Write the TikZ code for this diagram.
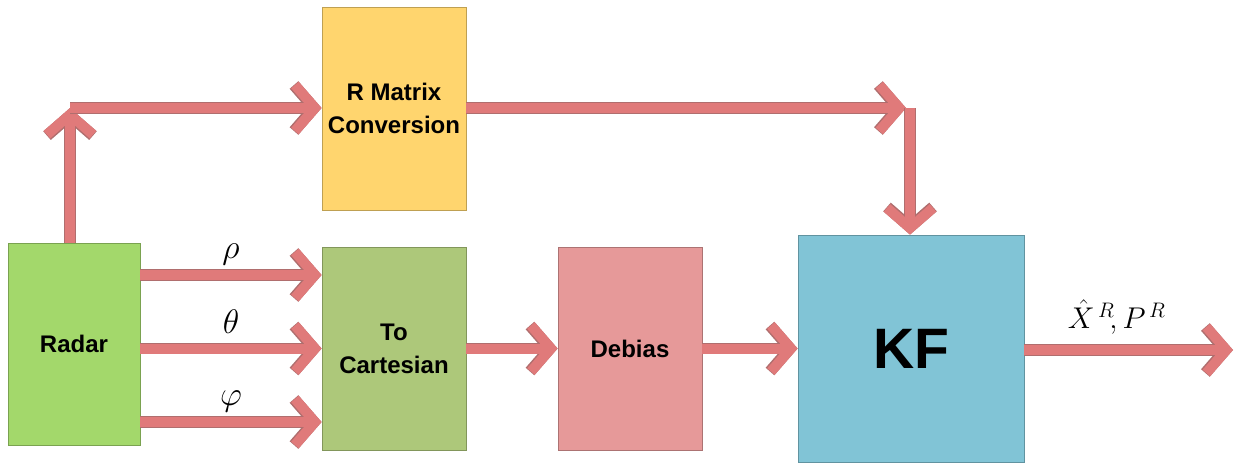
\RequirePackage{fix-cm}
\documentclass[tikz,border=0pt]{standalone}
\usepackage{fontspec}
\setmainfont{Liberation Sans}
\usetikzlibrary{arrows.meta}
\definecolor{arrowpink}{RGB}{224,122,122}
\definecolor{arrowedge}{RGB}{176,110,110}
\definecolor{radargreen}{RGB}{163,216,107}
\definecolor{cartgreen}{RGB}{173,200,122}
\definecolor{ryellow}{RGB}{255,213,110}
\definecolor{debpink}{RGB}{230,153,153}
\definecolor{kfblue}{RGB}{129,196,214}
\tikzset{
  blockbox/.style={draw=#1!75!black, fill=#1, line width=0.8pt, inner sep=0pt,
    font=\fontsize{24}{33}\selectfont\bfseries, align=center},
  flow/.style={draw=arrowpink, line width=10pt,
    -{Straight Barb[length=20pt,width=46pt,line width=10pt]},
    preaction={draw=arrowedge, line width=11.5pt,
      -{Straight Barb[length=20pt,width=46pt,line width=11.5pt]}}},
  mathlbl/.style={font=\fontsize{34}{40}\selectfont, inner sep=0pt}
}
\begin{document}
\begin{tikzpicture}[x=1pt,y=-1pt]
\useasboundingbox (0,0) rectangle (1243,464);
\node[blockbox=radargreen, minimum width=132pt, minimum height=202pt] (radar) at (74,344) {Radar};
\node[blockbox=ryellow, minimum width=144pt, minimum height=203pt] (rmat) at (394,108.5) {R Matrix\\Conversion};
\node[blockbox=cartgreen, minimum width=144pt, minimum height=203pt] (cart) at (394,348.5) {To\\Cartesian};
\node[blockbox=debpink, minimum width=144pt, minimum height=203pt] (deb) at (630,348.5) {Debias};
\node[blockbox=kfblue, minimum width=226pt, minimum height=227pt, font=\fontsize{57}{60}\selectfont\bfseries] (kf) at (911,348.5) {KF};
\coordinate (up) at (70,108);
\coordinate (turn) at (910,108);
\coordinate (out) at (1233,350);
% radar up to R matrix
\draw[flow] (radar.north -| up) -- (up);
\draw[flow] (up) -- (rmat.west |- up);
\draw[flow] (rmat.east |- turn) -- ([xshift=-4pt]turn);
\draw[flow] (turn) -- (kf.north -| turn);
% polar inputs
\draw[flow] ([yshift=73.5pt]radar.east |- cart.west) -- node[mathlbl, above=5pt] (rho) {$\rho$} ([yshift=73.5pt]cart.west);
\draw[flow] (radar.east |- cart.west) -- node[mathlbl, above=10pt] (theta) {$\theta$} (cart.west);
\draw[flow] ([yshift=-73.5pt]radar.east |- cart.west) -- node[mathlbl, above=5pt] (phi) {$\varphi$} ([yshift=-73.5pt]cart.west);
% chain
\draw[flow] (cart.east) -- (deb.west);
\draw[flow] (deb.east) -- (kf.west);
\draw[flow] (kf.east |- out) -- node[above=11pt, xshift=-12pt, inner sep=0pt, font=\fontsize{30}{34}\selectfont] (xr) {$\hat{X}^{\,R}\!, P^{\,R}$} (out);
\end{tikzpicture}
\end{document}
